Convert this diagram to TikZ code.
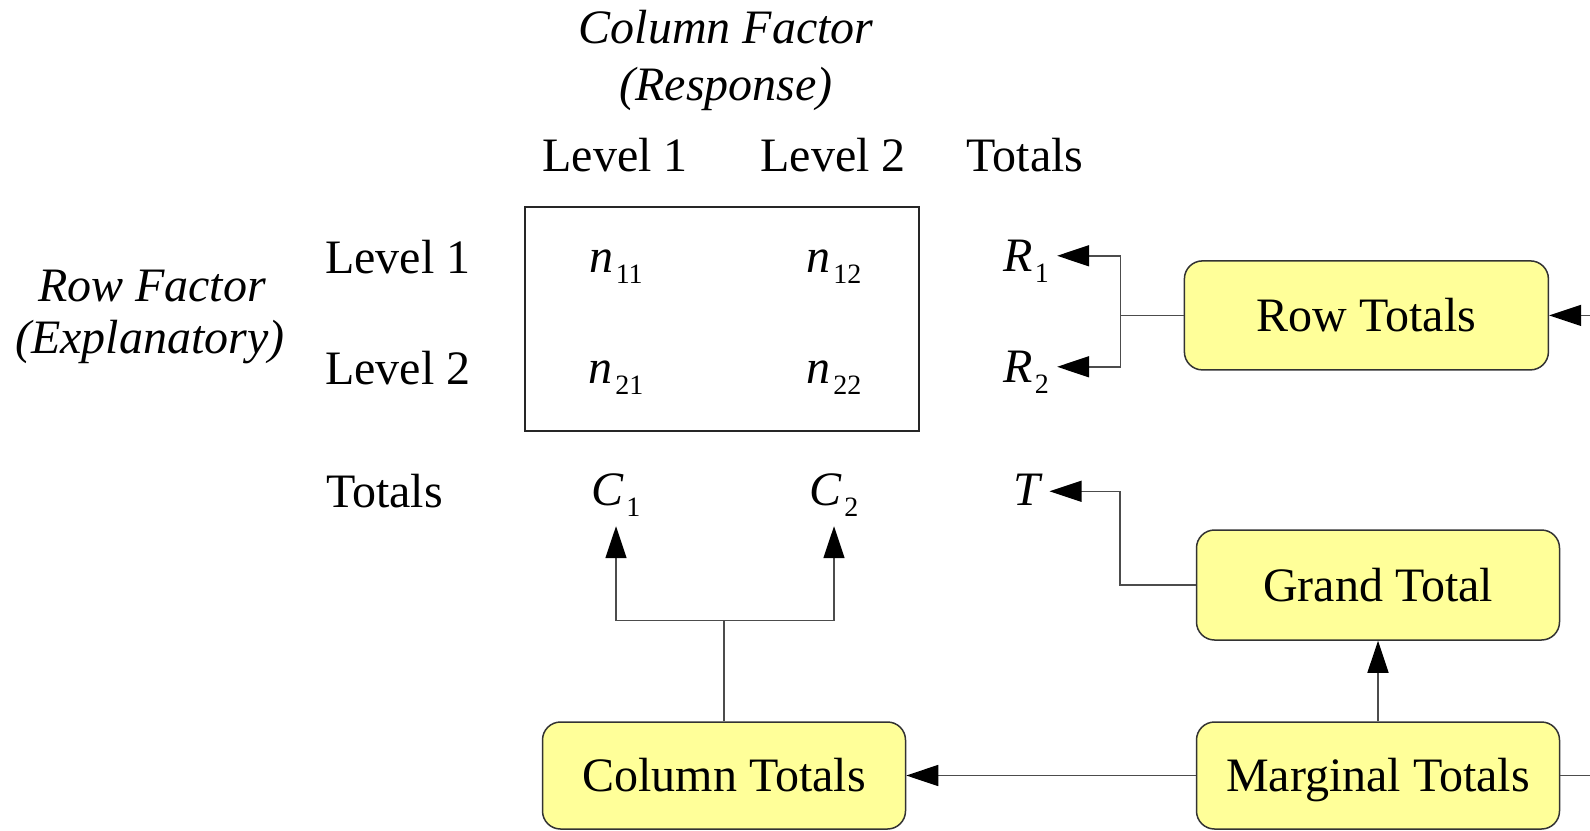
\documentclass[tikz,border=0pt]{standalone}
\usepackage{fontspec}
\setmainfont{Liberation Serif}
\usetikzlibrary{arrows.meta}
\definecolor{boxyellow}{HTML}{FFFF99}
\newcommand\sbx[1]{\kern2.5pt\raisebox{-11pt}{\fontsize{28}{28}\selectfont\upshape #1}}
\begin{document}
\begin{tikzpicture}[x=1pt,y=-1pt,
  txt/.style={font=\fontsize{48}{56}\selectfont, inner sep=0pt, anchor=base},
  itxt/.style={txt, font=\fontsize{48}{56}\selectfont\itshape},
  ybox/.style={draw=black!80, line width=1.5pt, fill=boxyellow, rounded corners=18pt,
    minimum width=363pt, minimum height=108pt, inner sep=0pt, text height=32pt, text depth=0pt,
    font=\fontsize{48}{56}\selectfont},
  conn/.style={draw=black!70, line width=1.5pt},
  arr/.style={conn, -{Triangle[length=32pt,width=21pt,color=black]}}]
\path[use as bounding box] (0,0) rectangle (1590,830);

% titles
\node[itxt] (cf) at (726,43) {Column Factor};
\node[itxt] (cr) at (726,100) {(Response)};
\node[itxt] (rf) at (152,301) {Row Factor};
\node[itxt] (re) at (150,353) {(Explanatory)};

% headers
\node[txt] (h1) at (615,171) {Level 1};
\node[txt] (h2) at (833,171) {Level 2};
\node[txt] (h3) at (1025,171) {Totals};

% row labels
\node[txt, anchor=base west] (l1) at (325,273) {Level 1};
\node[txt, anchor=base west] (l2) at (325,384) {Level 2};
\node[txt, anchor=base west] (lt) at (326,507) {Totals};

% table
\node[draw=black!85, line width=1.5pt, minimum width=394pt, minimum height=224pt, inner sep=0pt] (tbl) at (722,319) {};
\node[itxt] (n11) at (616,272) {n\sbx{11}};
\node[itxt] (n12) at (834,272) {n\sbx{12}};
\node[itxt] (n21) at (616,383) {n\sbx{21}};
\node[itxt] (n22) at (834,383) {n\sbx{22}};

% totals
\node[itxt] (R1) at (1026,271) {R\sbx{1}};
\node[itxt] (R2) at (1026,382) {R\sbx{2}};
\node[itxt] (C1) at (616,505) {C\sbx{1}};
\node[itxt] (C2) at (834,505) {C\sbx{2}};
\node[itxt] (T) at (1027,505) {T};

% boxes
\node[ybox, minimum width=364pt, minimum height=109pt] (rt) at (1366.4,315.4) {Row Totals};
\node[ybox, minimum height=110pt] (gt) at (1378,585) {Grand Total};
\node[ybox, minimum height=107pt] (mt) at (1378,775.5) {Marginal Totals};
\node[ybox, minimum height=107pt] (ct) at (724,775.5) {Column Totals};

\coordinate (rin) at (1590,315.4);
\coordinate (mout) at (1590,775.5);

% connectors
\draw[arr] (rin) -- (rt.east);
\draw[conn] (rt.west) -- ++(-63,0) coordinate (rsplit);
\draw[arr] (rsplit) |- ([xshift=8pt,yshift=5pt]R1.east);
\draw[arr] (rsplit) |- ([xshift=8pt,yshift=5pt]R2.east);

\draw[arr] (gt.west) -- ++(-76,0) |- ([xshift=9pt,yshift=-2pt]T.east);

\draw[conn] (ct.north) -- ++(0,-101) coordinate (cbar);
\draw[arr] (cbar) -| ([yshift=-10pt]C1.south);
\draw[arr] (cbar) -| ([yshift=-10pt]C2.south);

\draw[arr] (mt.north) -- (gt.south);
\draw[arr] (mt.west) -- (ct.east);
\draw[conn] (mt.east) -- (mout);
\end{tikzpicture}
\end{document}
